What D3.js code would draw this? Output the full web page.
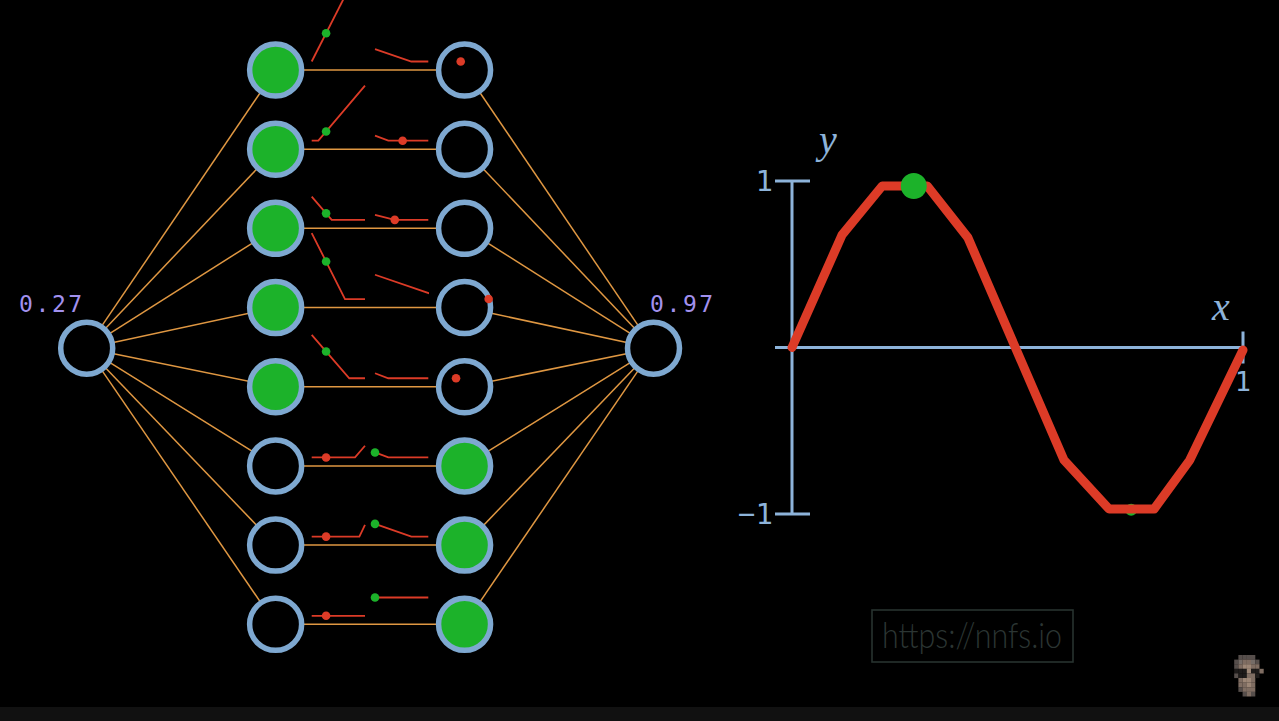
<!DOCTYPE html>
<html><head><meta charset="utf-8">
<script src="https://cdn.jsdelivr.net/npm/d3@7"></script>
<style>html,body{margin:0;padding:0;background:#000;overflow:hidden}</style>
</head><body>
<script>
// ---------- data ----------
const inputValue = 0.27;
const outputLabel = "0.97";
const inputLabel = "0.27";
const layers = ["in", "h1", "h2", "out"];
const hiddenRows = [0, 1, 2, 3, 4, 5, 6, 7];
// mini ReLU plots of layer 1 (x = network input, y = neuron output)
const layer1Curves = [
  [[0, 0], [1, 1.745]],
  [[0, 0], [0.125, 0], [1, 0.917]],
  [[0, 0.388], [0.375, 0], [1, 0]],
  [[0, 1.1], [0.625, 0], [1, 0]],
  [[0, 0.722], [0.705, 0], [1, 0]],
  [[0, 0], [0.813, 0], [1, 0.195]],
  [[0, 0], [0.894, 0], [1, 0.195]],
  [[0, 0], [1, 0]]
];
// mini ReLU plots of layer 2 (x = layer-1 output, y = neuron output)
const layer2Curves = [
  [[0, 0.207], [0.2, 0], [0.293, 0]],
  [[0, 0.083], [0.073, 0], [0.293, 0]],
  [[0, 0.083], [0.108, 0], [0.293, 0]],
  [[0, 0.405], [0.389, 0], [0.7, 0]],
  [[0, 0.083], [0.073, 0], [0.293, 0]],
  [[0, 0.083], [0.073, 0], [0.293, 0]],
  [[0, 0.212], [0.2, 0], [0.293, 0]],
  [[0, 0.305], [0.293, 0.305]]
];
// approximated sine (network output over x)
const curveX = [0, 0.111, 0.2, 0.3, 0.39, 0.603, 0.703, 0.803, 0.882, 1.0];
const curveY = [0, 0.676, 0.97, 0.97, 0.66, -0.676, -0.97, -0.97, -0.676, -0.015];
const markerPoints = [[0.27, 0.97, 13], [0.752, -0.975, 6]];
const yTicks = [-1, 1];
const yTickLabels = ["\u22121", "1"];
const xTicks = [1];
const xTickLabels = ["1"];
const watermark = "https://nnfs.io";

// ---------- colours ----------
const C = {
  node: "#7ea8d0", green: "#1cb22a", orange: "#df9742", red: "#dc3b27",
  axis: "#8db3da", label: "#a291ee"
};

const W = 1279, H = 721;
const svg = d3.select("body").append("svg").attr("width", W).attr("height", H)
  .style("display", "block").style("background", "#000");

// ---------- network layout ----------
const xLayer = d3.scalePoint().domain(layers).range([86.7, 653.5]);
const yRow = d3.scaleLinear().domain([0, 7]).range([70, 624.3]);
const yMid = (yRow(0) + yRow(7)) / 2 + 1;
const R = 26;

function interp(pts, x) {
  if (x <= pts[0][0]) return pts[0][1];
  for (let i = 1; i < pts.length; i++) {
    if (x <= pts[i][0]) {
      const [x0, y0] = pts[i - 1], [x1, y1] = pts[i];
      return y0 + (y1 - y0) * (x - x0) / (x1 - x0);
    }
  }
  return pts[pts.length - 1][1];
}
const h1 = layer1Curves.map(c => Math.max(0, interp(c, inputValue)));
const h2 = layer2Curves.map((c, i) => Math.max(0, interp(c, h1[i])));

// connections
const links = svg.append("g").attr("stroke", C.orange).attr("stroke-width", 1.5);
hiddenRows.forEach(i => {
  links.append("line").attr("x1", xLayer("in")).attr("y1", yMid).attr("x2", xLayer("h1")).attr("y2", yRow(i));
  links.append("line").attr("x1", xLayer("h1")).attr("y1", yRow(i)).attr("x2", xLayer("h2")).attr("y2", yRow(i));
  links.append("line").attr("x1", xLayer("h2")).attr("y1", yRow(i)).attr("x2", xLayer("out")).attr("y2", yMid);
});

// nodes
const nodes = svg.append("g").attr("stroke", C.node).attr("stroke-width", 5.5);
nodes.append("circle").attr("cx", xLayer("in")).attr("cy", yMid).attr("r", R).attr("fill", "#000");
nodes.append("circle").attr("cx", xLayer("out")).attr("cy", yMid).attr("r", R).attr("fill", "#000");
hiddenRows.forEach(i => {
  nodes.append("circle").attr("cx", xLayer("h1")).attr("cy", yRow(i)).attr("r", R)
    .attr("fill", h1[i] > 0.01 ? C.green : "#000");
  nodes.append("circle").attr("cx", xLayer("h2")).attr("cy", yRow(i)).attr("r", R)
    .attr("fill", h2[i] > 0.01 ? C.green : "#000");
});

// mini plots (drawn on top of nodes)
const mx1 = d3.scaleLinear().domain([0, 1]).range([311.7, 365]);
const mx2 = d3.scaleLinear().domain([0, 0.293]).range([375, 428.3]);
const my = d3.scaleLinear().domain([0, 1]).range([0, -60]);
svg.append("defs").append("clipPath").attr("id", "clip2").append("rect")
  .attr("x", 374).attr("y", -100).attr("width", 55).attr("height", 900);

hiddenRows.forEach(i => {
  const base = yRow(i) - 8.5;
  const g = svg.append("g");
  g.append("path").attr("d", d3.line().x(d => mx1(d[0])).y(d => base + my(d[1]))(layer1Curves[i]))
    .attr("fill", "none").attr("stroke", C.red).attr("stroke-width", 1.8);
  g.append("g").attr("clip-path", "url(#clip2)").append("path")
    .attr("d", d3.line().x(d => mx2(d[0])).y(d => base + my(d[1]))(layer2Curves[i]))
    .attr("fill", "none").attr("stroke", C.red).attr("stroke-width", 1.8);
  g.append("circle").attr("cx", mx1(inputValue)).attr("cy", base + my(h1[i])).attr("r", 4.3)
    .attr("fill", h1[i] > 0.01 ? C.green : C.red);
  g.append("circle").attr("cx", mx2(h1[i])).attr("cy", base + my(h2[i])).attr("r", 4.3)
    .attr("fill", h2[i] > 0.01 ? C.green : C.red);
});

const mono = "'DejaVu Sans Mono', 'Liberation Mono', monospace";
svg.append("text").attr("x", 19).attr("y", 312).text(inputLabel)
  .attr("font-family", mono).attr("font-size", 23).attr("letter-spacing", 2.6).attr("fill", C.label);
svg.append("text").attr("x", 650).attr("y", 312).text(outputLabel)
  .attr("font-family", mono).attr("font-size", 23).attr("letter-spacing", 2.6).attr("fill", C.label);

// ---------- function plot ----------
const px = d3.scaleLinear().domain([0, 1]).range([792, 1243]);
const py = d3.scaleLinear().domain([-1, 1]).range([514, 181]);
const ax = svg.append("g").attr("stroke", C.axis).attr("stroke-width", 3);
ax.append("line").attr("x1", px(0)).attr("x2", px(0)).attr("y1", py(-1)).attr("y2", py(1));
ax.append("line").attr("x1", px(0) - 17).attr("x2", px(1)).attr("y1", py(0)).attr("y2", py(0));
yTicks.forEach(t => ax.append("line").attr("x1", px(0) - 17).attr("x2", px(0) + 18)
  .attr("y1", py(t)).attr("y2", py(t)));
xTicks.forEach(t => ax.append("line").attr("x1", px(t)).attr("x2", px(t))
  .attr("y1", py(0) - 16).attr("y2", py(0) + 16));

yTicks.forEach((t, i) => svg.append("text").attr("x", px(0) - 19).attr("y", py(t) + 10)
  .attr("text-anchor", "end").attr("font-family", mono).attr("font-size", 29)
  .attr("fill", C.axis).text(yTickLabels[i]));
xTicks.forEach((t, i) => svg.append("text").attr("x", px(t)).attr("y", py(0) + 43)
  .attr("text-anchor", "middle").attr("font-family", mono).attr("font-size", 27)
  .attr("fill", C.axis).text(xTickLabels[i]));
const serif = "'Liberation Serif', 'DejaVu Serif', serif";
svg.append("text").attr("x", 819).attr("y", 153).text("y").attr("font-family", serif)
  .attr("font-style", "italic").attr("font-size", 40).attr("fill", C.axis);
svg.append("text").attr("x", 1212).attr("y", 320).text("x").attr("font-family", serif)
  .attr("font-style", "italic").attr("font-size", 40).attr("fill", C.axis);

// hidden marker behind curve
svg.append("circle").attr("cx", px(markerPoints[1][0])).attr("cy", py(markerPoints[1][1]))
  .attr("r", markerPoints[1][2]).attr("fill", C.green);
const curve = curveX.map((x, i) => [x, curveY[i]]);
svg.append("path").attr("d", d3.line().x(d => px(d[0])).y(d => py(d[1]))(curve))
  .attr("fill", "none").attr("stroke", C.red).attr("stroke-width", 9)
  .attr("stroke-linejoin", "round").attr("stroke-linecap", "round");
svg.append("circle").attr("cx", px(markerPoints[0][0])).attr("cy", py(markerPoints[0][1]))
  .attr("r", markerPoints[0][2]).attr("fill", C.green);

// ---------- watermark & decorations ----------
svg.append("rect").attr("x", 872).attr("y", 610).attr("width", 201).attr("height", 52)
  .attr("fill", "none").attr("stroke", "#27322f").attr("stroke-width", 1.6);
svg.append("text").attr("x", 882).attr("y", 648).text(watermark)
  .attr("font-family", "Lato, 'Open Sans', sans-serif").attr("font-weight", 300)
  .attr("font-size", 36).attr("textLength", 180).attr("lengthAdjust", "spacingAndGlyphs")
  .attr("fill", "#2b3533");
svg.append("rect").attr("x", 0).attr("y", 707).attr("width", W).attr("height", H - 707).attr("fill", "#111");

// tiny pixel avatar
const avatarRows = [
  "..gggg..",
  ".gGssGg.",
  ".gsSSss.",
  ".kkkSkks",
  ".gkkssk.",
  "..sSSs..",
  "..ssSs..",
  "..gsss..",
  "...gsg.."
];
const avatarColors = { g: "#564e4b", G: "#756c67", s: "#7f6d62", S: "#9c8676", k: "#1e1b1a" };
avatarRows.forEach((row, r) => row.split("").forEach((ch, c) => {
  if (ch === ".") return;
  svg.append("rect").attr("x", 1230 + c * 4.2).attr("y", 655 + r * 4.6)
    .attr("width", 4.3).attr("height", 4.7).attr("fill", avatarColors[ch]);
}));
</script>
</body></html>
